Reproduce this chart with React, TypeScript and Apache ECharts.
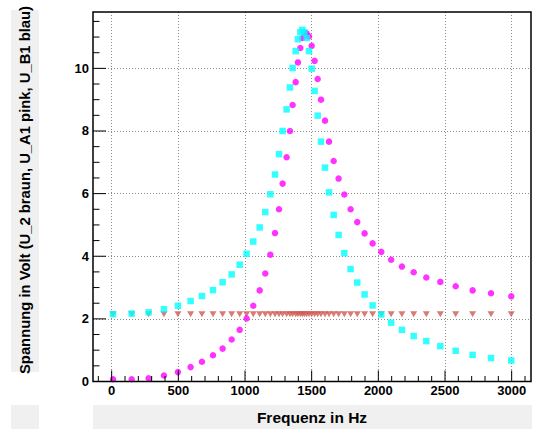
import React, { useEffect, useRef } from "react";
import * as echarts from "echarts";

// Frequencies in Hz (shared by all three series)
const frequencies = [
  10, 150, 277, 392, 497, 592, 677, 760, 832, 900,
  960, 1012, 1062, 1110, 1152, 1190, 1225, 1255, 1282, 1312,
  1337, 1357, 1380, 1397, 1415, 1430, 1445, 1462, 1480, 1500,
  1522, 1545, 1570, 1600, 1630, 1665, 1702, 1745, 1792, 1842,
  1897, 1957, 2022, 2096, 2177, 2265, 2360, 2465, 2580, 2707,
  2845, 2997,
];

// U_A1 (pink)
const uA1 = [
  0.07, 0.07, 0.1, 0.19, 0.3, 0.46, 0.63, 0.84, 1.05, 1.34,
  1.65, 2.01, 2.42, 2.91, 3.45, 4.05, 4.74, 5.5, 6.32, 7.16,
  8.0, 8.83, 9.56, 10.19, 10.65, 10.97, 11.14, 11.12, 11.02, 10.72,
  10.24, 9.66, 9.0, 8.33, 7.66, 7.04, 6.48, 5.97, 5.5, 5.09,
  4.73, 4.41, 4.14, 3.89, 3.67, 3.49, 3.32, 3.18, 3.04, 2.91,
  2.82, 2.72,
];

// U_B1 (blue / cyan)
const uB1 = [
  2.15, 2.17, 2.21, 2.31, 2.42, 2.57, 2.73, 2.92, 3.17, 3.42,
  3.73, 4.08, 4.47, 4.92, 5.41, 5.98, 6.61, 7.26, 8.0, 8.69,
  9.39, 10.01, 10.55, 10.93, 11.15, 11.23, 11.15, 10.97, 10.55, 9.99,
  9.28, 8.49, 7.66, 6.83, 6.04, 5.32, 4.68, 4.1, 3.59, 3.16,
  2.78, 2.43, 2.14, 1.88, 1.65, 1.45, 1.29, 1.13, 0.98, 0.85,
  0.75, 0.67,
];

// U_2 (brown)
const u2 = [
  2.15, 2.15, 2.15, 2.15, 2.15, 2.15, 2.15, 2.15, 2.15, 2.15,
  2.15, 2.15, 2.15, 2.15, 2.15, 2.15, 2.15, 2.15, 2.15, 2.15,
  2.15, 2.15, 2.15, 2.15, 2.15, 2.15, 2.15, 2.15, 2.15, 2.15,
  2.15, 2.15, 2.15, 2.15, 2.15, 2.15, 2.15, 2.15, 2.15, 2.15,
  2.15, 2.15, 2.15, 2.15, 2.15, 2.15, 2.15, 2.15, 2.15, 2.15,
  2.15, 2.15,
];

const xTickLabels = [0, 500, 1000, 1500, 2000, 2500, 3000];
const yTickLabels = [0, 2, 4, 6, 8, 10];

const X_MIN = -140;
const X_MAX = 3145;
const Y_MIN = 0;
const Y_MAX = 11.8;

const FONT = "'Liberation Sans', Arial, Helvetica, sans-serif";

export default function App() {
  const ref = useRef<HTMLDivElement>(null);

  useEffect(() => {
    if (!ref.current) return;
    const chart = echarts.init(ref.current, null, { renderer: "svg" });

    const xTickData: number[][] = [];
    for (let v = -100; v <= 3100; v += 100) {
      xTickData.push([v, Y_MIN, v % 500 === 0 ? 1 : 0]);
    }
    const yTickData: number[][] = [];
    for (let v = 0; v <= 11.5; v += 0.5) {
      yTickData.push([X_MIN, v, v % 2 === 0 ? 1 : 0]);
    }

    const gridLeft = 93;
    const gridTop = 12;
    const gridRight = 6;
    const gridBottom = 47.5;
    const W = 537;
    const H = 429;

    chart.setOption({
      animation: false,
      backgroundColor: "#ffffff",
      grid: {
        left: gridLeft,
        top: gridTop,
        right: gridRight,
        bottom: gridBottom,
        show: false,
      },
      xAxis: {
        type: "value",
        min: X_MIN,
        max: X_MAX,
        axisLine: { show: false },
        axisTick: { show: false },
        splitLine: {
          show: true,
          showMinLine: false,
          showMaxLine: false,
          lineStyle: { color: "#8c8c8c", type: [1, 2], width: 1 },
        },
        axisLabel: {
          margin: 2,
          color: "#000",
          fontFamily: FONT,
          fontWeight: "bold",
          fontSize: 13,
          showMinLabel: false,
          showMaxLabel: false,
          formatter: (v: number) => (xTickLabels.includes(v) ? String(v) : ""),
        },
      },
      yAxis: {
        type: "value",
        min: Y_MIN,
        max: Y_MAX,
        axisLine: { show: false },
        axisTick: { show: false },
        splitLine: {
          show: true,
          showMinLine: false,
          showMaxLine: false,
          lineStyle: { color: "#8c8c8c", type: [1, 2], width: 1 },
        },
        axisLabel: {
          margin: 4,
          color: "#000",
          fontFamily: FONT,
          fontWeight: "bold",
          fontSize: 13,
          showMaxLabel: false,
          formatter: (v: number) => (yTickLabels.includes(v) ? String(v) : ""),
        },
      },
      series: [
        {
          name: "U_2",
          type: "scatter",
          data: frequencies.map((f, i) => [f, u2[i]]),
          symbol: "triangle",
          symbolRotate: 180,
          symbolSize: [7, 6],
          itemStyle: { color: "#cf5a52" },
          z: 2,
        },
        {
          name: "U_A1",
          type: "scatter",
          data: frequencies.map((f, i) => [f, uA1[i]]),
          symbol: "circle",
          symbolSize: 6.5,
          itemStyle: { color: "#ff00ff" },
          z: 3,
        },
        {
          name: "U_B1",
          type: "scatter",
          data: frequencies.map((f, i) => [f, uB1[i]]),
          symbol: "rect",
          symbolSize: 6.5,
          itemStyle: { color: "#00ffff" },
          z: 4,
        },
        {
          name: "xticks",
          type: "custom",
          coordinateSystem: "cartesian2d",
          silent: true,
          z: 6,
          data: xTickData,
          renderItem: (_p: any, api: any) => {
            const pt = api.coord([api.value(0), api.value(1)]);
            const len = api.value(2) === 1 ? 11 : 5.5;
            return {
              type: "line",
              shape: { x1: pt[0], y1: pt[1], x2: pt[0], y2: pt[1] - len },
              style: { stroke: "#000", lineWidth: 1 },
            };
          },
        },
        {
          name: "yticks",
          type: "custom",
          coordinateSystem: "cartesian2d",
          silent: true,
          z: 6,
          data: yTickData,
          renderItem: (_p: any, api: any) => {
            const pt = api.coord([api.value(0), api.value(1)]);
            const len = api.value(2) === 1 ? 13 : 6.5;
            return {
              type: "line",
              shape: { x1: pt[0], y1: pt[1], x2: pt[0] + len, y2: pt[1] },
              style: { stroke: "#000", lineWidth: 1 },
            };
          },
        },
      ],
      graphic: [
        {
          type: "rect",
          silent: true,
          z: -1,
          shape: { x: 11, y: 10, width: 28, height: 362 },
          style: { fill: "#f0f0f0" },
        },
        {
          type: "rect",
          silent: true,
          z: -1,
          shape: { x: 11, y: 405, width: 28, height: 24 },
          style: { fill: "#f0f0f0" },
        },
        {
          type: "rect",
          silent: true,
          z: -1,
          shape: { x: gridLeft, y: 405, width: W - gridLeft - 5, height: 24 },
          style: { fill: "#f0f0f0" },
        },
        {
          type: "text",
          silent: true,
          x: 312,
          y: 417,
          style: {
            text: "Frequenz in Hz",
            fill: "#000",
            font: `bold 15.5px ${FONT}`,
            textAlign: "center",
            textVerticalAlign: "middle",
          },
        },
        {
          type: "text",
          silent: true,
          x: 25,
          y: 190,
          rotation: Math.PI / 2,
          style: {
            text: "Spannung in Volt (U_2 braun, U_A1 pink, U_B1 blau)",
            fill: "#000",
            font: `bold 14.8px ${FONT}`,
            textAlign: "center",
            textVerticalAlign: "middle",
          },
        },
        {
          type: "rect",
          silent: true,
          z: 100,
          shape: {
            x: gridLeft,
            y: gridTop,
            width: W - gridLeft - gridRight,
            height: H - gridTop - gridBottom,
          },
          style: { fill: "none", stroke: "#000", lineWidth: 1.5 },
        },
      ],
    });

    return () => {
      chart.dispose();
    };
  }, []);

  return (
    <div
      ref={ref}
      style={{ position: "absolute", left: 0, top: 0, width: 537, height: 429 }}
    />
  );
}
